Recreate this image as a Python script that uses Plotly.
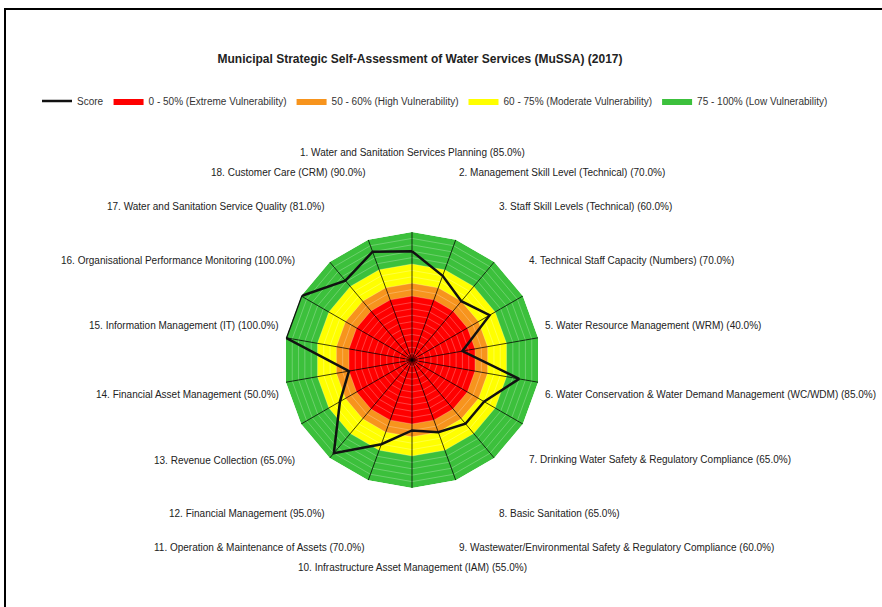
import math
import plotly.graph_objects as go

# ---- data ----
categories = [
    "Water and Sanitation Services Planning",
    "Management Skill Level (Technical)",
    "Staff Skill Levels (Technical)",
    "Technical Staff Capacity (Numbers)",
    "Water Resource Management (WRM)",
    "Water Conservation & Water Demand Management (WC/WDM)",
    "Drinking Water Safety & Regulatory Compliance",
    "Basic Sanitation",
    "Wastewater/Environmental Safety & Regulatory Compliance",
    "Infrastructure Asset Management (IAM)",
    "Operation & Maintenance of Assets",
    "Financial Management",
    "Revenue Collection",
    "Financial Asset Management",
    "Information Management (IT)",
    "Organisational Performance Monitoring",
    "Water and Sanitation Service Quality",
    "Customer Care (CRM)",
]
scores = [85, 70, 60, 70, 40, 85, 65, 65, 60, 55, 70, 95, 65, 50, 100, 100, 81, 90]

band_names = [
    "0 - 50% (Extreme Vulnerability)",
    "50 - 60% (High Vulnerability)",
    "60 - 75% (Moderate Vulnerability)",
    "75 - 100% (Low Vulnerability)",
]
band_upper = [50, 60, 75, 100]
band_colors = ["#FF0000", "#F7941D", "#FFFF00", "#3CC03C"]

grid_step = 5
axis_max = 100

title_text = "Municipal Strategic Self-Assessment of Water Services (MuSSA) (2017)"

# ---- build ----
labels = [f"{i + 1}. {c} ({s:.1f}%)" for i, (c, s) in enumerate(zip(categories, scores))]
theta_closed = labels + labels[:1]
n = len(labels)

fig = go.Figure()

# vulnerability bands: largest first so smaller ones sit on top
for name, upper, color, rank in reversed(list(zip(band_names, band_upper, band_colors, [2, 3, 4, 5]))):
    fig.add_trace(go.Scatterpolar(
        r=[upper] * (n + 1),
        theta=theta_closed,
        mode="lines",
        fill="toself",
        fillcolor=color,
        line=dict(color=color, width=0),
        name=name,
        legendrank=rank,
        hoverinfo="skip",
    ))

# faint concentric grid rings inside the bands
ring_r, ring_t = [], []
for lvl in range(grid_step, axis_max, grid_step):
    ring_r += [lvl] * (n + 1) + [None]
    ring_t += theta_closed + [None]
fig.add_trace(go.Scatterpolar(
    r=ring_r, theta=ring_t, mode="lines",
    line=dict(color="rgba(255,255,255,0.25)", width=1),
    showlegend=False, hoverinfo="skip",
))

# spokes
spoke_r, spoke_t = [], []
for lab in labels:
    spoke_r += [0, axis_max, None]
    spoke_t += [lab, lab, None]
fig.add_trace(go.Scatterpolar(
    r=spoke_r, theta=spoke_t, mode="lines",
    line=dict(color="rgba(0,0,0,0.75)", width=1),
    showlegend=False, hoverinfo="skip",
))

# score
fig.add_trace(go.Scatterpolar(
    r=scores + scores[:1],
    theta=theta_closed,
    mode="lines",
    line=dict(color="#111111", width=2.5),
    name="Score",
    legendrank=1,
))

# ---- layout ----
W, H = 882, 607
cx, cy, R = 412, 360, 128          # polar centre / radius in pixels
lab_rx, lab_ry = R + 5, 200        # label ring (pixels)

annotations = []
for i, lab in enumerate(labels):
    ang = math.radians(i * 360.0 / n)
    s, c = math.sin(ang), math.cos(ang)
    px = cx + lab_rx * s
    py = cy - lab_ry * c
    if abs(s) < 0.1:
        xa = "center"
        ya = "bottom" if c > 0 else "top"
    else:
        xa = "left" if s > 0 else "right"
        ya = "middle"
    annotations.append(dict(
        text=lab, x=px / W, y=1 - py / H, xref="paper", yref="paper",
        xanchor=xa, yanchor=ya, showarrow=False,
        font=dict(size=10, color="#222222"),
    ))

fig.update_layout(
    width=W,
    height=H,
    autosize=False,
    margin=dict(l=0, r=0, t=0, b=0, pad=0),
    paper_bgcolor="white",
    plot_bgcolor="white",
    font=dict(family="Liberation Sans, Arial, sans-serif", size=10, color="#222222"),
    title=dict(
        text=f"<b>{title_text}</b>",
        x=420 / W,
        xref="container",
        xanchor="center",
        y=1 - 59 / H,
        yref="container",
        yanchor="middle",
        font=dict(size=12, color="#222222"),
    ),
    legend=dict(
        orientation="h",
        x=435 / W,
        xanchor="center",
        y=1 - 101 / H,
        yanchor="middle",
        font=dict(size=10, color="#333333"),
        itemwidth=30,
    ),
    polar=dict(
        domain=dict(
            x=[(cx - R) / W, (cx + R) / W],
            y=[(H - cy - R) / H, (H - cy + R) / H],
        ),
        bgcolor="white",
        gridshape="linear",
        radialaxis=dict(
            range=[0, axis_max],
            showticklabels=False,
            ticks="",
            showline=False,
            showgrid=False,
        ),
        angularaxis=dict(
            direction="clockwise",
            rotation=90,
            ticks="",
            showline=False,
            showgrid=False,
            showticklabels=False,
        ),
    ),
    annotations=annotations,
    shapes=[
        dict(
            type="rect",
            xref="paper",
            yref="paper",
            x0=5 / W,
            x1=1.02,
            y0=-0.05,
            y1=1 - 9 / H,
            line=dict(color="black", width=2),
            fillcolor="rgba(0,0,0,0)",
            layer="below",
        )
    ],
)

fig.write_html(
    "out.html",
    config={"displayModeBar": False},
    post_script="document.body.style.margin='0';document.body.style.overflow='hidden';",
)
